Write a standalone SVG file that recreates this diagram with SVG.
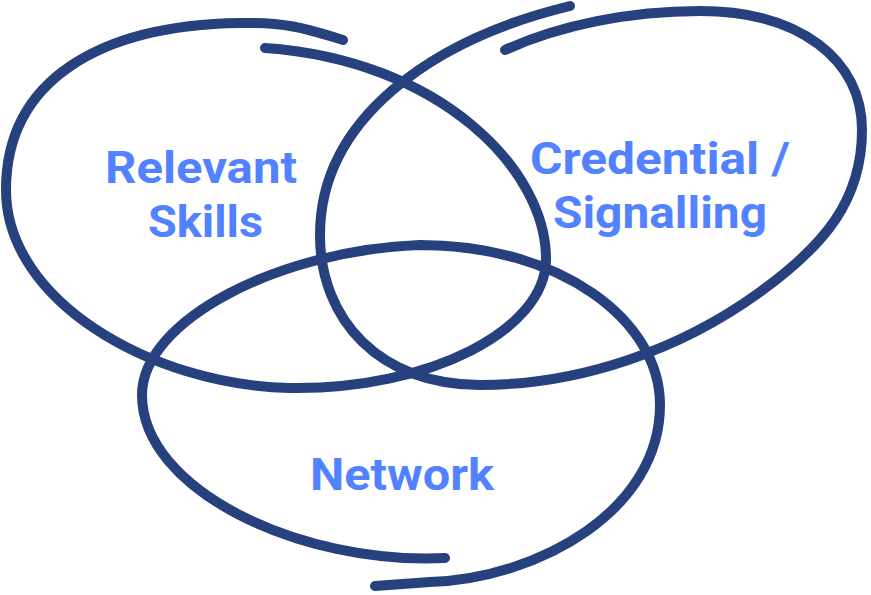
<svg xmlns="http://www.w3.org/2000/svg" width="871" height="595" viewBox="0 0 871 595">
<style>
.loop{fill:none;stroke:#27417f;stroke-width:10;stroke-linecap:round;stroke-linejoin:round}
.lbl{font-family:Roboto,"Liberation Sans",sans-serif;font-weight:700;font-size:45px;fill:#5282ff}
</style>
<rect width="871" height="595" fill="#ffffff"/>
<g id="relevant-skills">
<path class="loop" d="M343,40 C310,30 290,22 240,23 C100,25 6,80 6,190 C6,300 150,385 290,388 C430,390 545,330 546,260 C547,170 440,60 265,48"/>
<text class="lbl" x="105" y="183" textLength="192" lengthAdjust="spacingAndGlyphs">Relevant</text>
<text class="lbl" x="148" y="237" textLength="115" lengthAdjust="spacingAndGlyphs">Skills</text>
</g>
<g id="credential-signalling">
<path class="loop" d="M505,50 C560,25 630,11 700,11 C800,11 862,60 862,130 C862,200 825,245 760,292 C680,350 580,385 480,385 C380,385 320,320 320,235 C320,120 430,40 570,6"/>
<text class="lbl" x="530" y="174" textLength="260" lengthAdjust="spacingAndGlyphs">Credential /</text>
<text class="lbl" x="553" y="228" textLength="214" lengthAdjust="spacingAndGlyphs">Signalling</text>
</g>
<g id="network">
<path class="loop" d="M445,558 C300,565 142,490 142,395 C142,320 280,250 420,245 C560,245 660,320 660,405 C660,510 540,578 430,582 L375,586"/>
<text class="lbl" x="310" y="490" textLength="184" lengthAdjust="spacingAndGlyphs">Network</text>
</g>
</svg>
